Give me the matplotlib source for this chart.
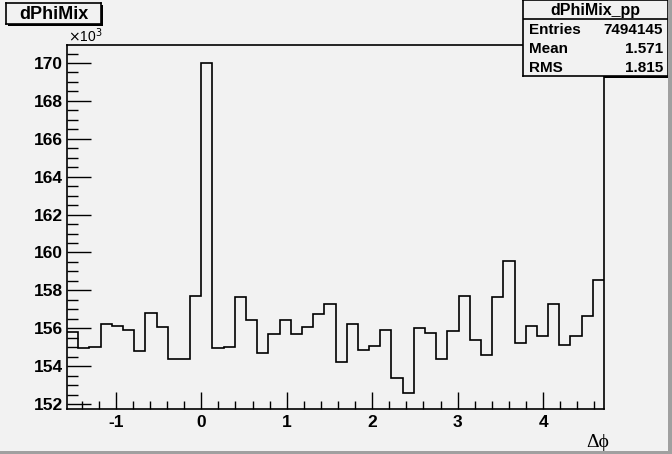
import numpy as np
import matplotlib
matplotlib.use("Agg")
import matplotlib.pyplot as plt
from matplotlib.patches import Rectangle
from matplotlib.ticker import MultipleLocator

# --- dados (contagens por bin, em unidades de 10^3) ---
N_BINS = 48
X_MIN, X_MAX = -np.pi / 2, 3 * np.pi / 2
counts_k = [
    155.81, 154.97, 155.02, 156.22, 156.13, 155.90, 154.79, 156.80,
    156.08, 154.37, 154.37, 157.70, 170.00, 154.98, 155.03, 157.64,
    156.43, 154.69, 155.69, 156.43, 155.69, 156.06, 156.75, 157.27,
    154.21, 156.22, 154.88, 155.04, 155.90, 153.37, 152.58, 156.00,
    155.74, 154.39, 155.87, 157.70, 155.39, 154.58, 157.64, 159.55,
    155.22, 156.11, 155.58, 157.27, 155.11, 155.58, 156.64, 158.54,
]
hist_name = "dPhiMix"
stats_name = "dPhiMix_pp"
stats_rows = [("Entries", "7494145"), ("Mean", "1.571"), ("RMS", "1.815")]
x_label = "\u0394\u03d5"
y_ticks = [152, 154, 156, 158, 160, 162, 164, 166, 168, 170]
x_ticks = [-1, 0, 1, 2, 3, 4]

BG = "#f2f2f2"
W, H = 672, 454
FONT = ["Liberation Sans", "DejaVu Sans"]
plt.rcParams["font.family"] = FONT
plt.rcParams["axes.unicode_minus"] = False


def px(x0, y0, x1, y1):
    """pixel box (top-left origin) -> figure fraction [l, b, w, h]"""
    return [x0 / W, 1 - y1 / H, (x1 - x0) / W, (y1 - y0) / H]


fig = plt.figure(figsize=(W / 100, H / 100), dpi=100, facecolor=BG)

# borda do canvas (estilo ROOT)
fig.patches.append(Rectangle((668 / W, 0), 4 / W, 1, transform=fig.transFigure,
                             facecolor="#a0a0a0", edgecolor="none"))
fig.patches.append(Rectangle((0, 0), 1, 3 / H, transform=fig.transFigure,
                             facecolor="#a0a0a0", edgecolor="none"))

ax = fig.add_axes(px(67, 45, 604, 409))
ax.set_facecolor(BG)
edges = np.linspace(X_MIN, X_MAX, N_BINS + 1)
ax.stairs(counts_k, edges, color="black", linewidth=1.2, baseline=None)
ax.set_xlim(X_MIN, X_MAX)
ax.set_ylim(151.74, 170.95)

ax.set_yticks(y_ticks)
ax.set_xticks(x_ticks)
ax.yaxis.set_minor_locator(MultipleLocator(0.5))
ax.xaxis.set_minor_locator(MultipleLocator(0.2))
ax.tick_params(axis="y", which="major", direction="in", length=17, width=1, labelsize=12.5, pad=3)
ax.tick_params(axis="y", which="minor", direction="in", length=8, width=1)
ax.tick_params(axis="x", which="major", direction="in", length=12, width=1, labelsize=12.5, pad=4)
ax.tick_params(axis="x", which="minor", direction="in", length=6, width=1)
for lab in ax.get_xticklabels() + ax.get_yticklabels():
    lab.set_fontweight("bold")
for sp in ax.spines.values():
    sp.set_linewidth(1.2)

fig.text(68 / W, 1 - 42 / H, r"$\times$10$^{3}$", fontsize=10, ha="left", va="baseline")
fig.text(598 / W, 1 - 447 / H, x_label, fontsize=14, ha="center", va="baseline",
         family=["Liberation Serif", "DejaVu Serif"])

# caixa do titulo
fig.patches.append(Rectangle((8 / W, 1 - 26 / H), 95 / W, 21 / H, transform=fig.transFigure,
                             facecolor="black", edgecolor="none", zorder=-1))
tb = fig.add_axes(px(6, 3, 101, 24))
tb.set_xticks([]); tb.set_yticks([])
tb.set_facecolor(BG)
for sp in tb.spines.values():
    sp.set_linewidth(1.2)
tb.text(0.5, 0.45, hist_name, ha="center", va="center", fontsize=13, fontweight="bold")

# caixa de estatisticas
fig.patches.append(Rectangle((525 / W, 1 - 78 / H), 146 / W, 76 / H, transform=fig.transFigure,
                             facecolor="black", edgecolor="none", zorder=-1))
sb = fig.add_axes(px(523, 0, 668, 76))
sb.set_xticks([]); sb.set_yticks([])
sb.set_facecolor(BG)
sb.set_xlim(0, 145); sb.set_ylim(76, 0)
for sp in sb.spines.values():
    sp.set_linewidth(1.2)
sb.axhline(19, color="black", linewidth=1.2)
sb.text(72.5, 10, stats_name, ha="center", va="center", fontsize=11.5, fontweight="bold")
for i, (k, v) in enumerate(stats_rows):
    y = 30 + i * 19
    sb.text(6, y, k, ha="left", va="center", fontsize=11, fontweight="bold")
    sb.text(140, y, v, ha="right", va="center", fontsize=11, fontweight="bold")

fig.savefig("out.png", dpi=100, facecolor=BG)
